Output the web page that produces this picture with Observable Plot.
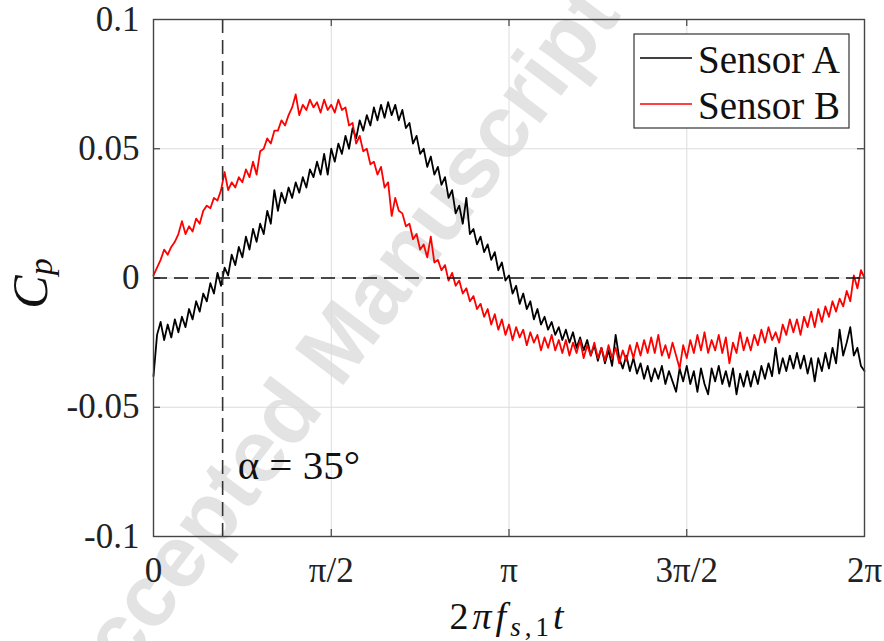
<!DOCTYPE html>
<html>
<head>
<meta charset="utf-8">
<script src="https://cdn.jsdelivr.net/npm/d3@7"></script>
<script src="https://cdn.jsdelivr.net/npm/@observablehq/plot@0.6"></script>
<style>
  body { margin: 0; background: #fff; }
  #chart svg { display: block; }
</style>
</head>
<body>
<div id="chart"></div>
<script>
// ---------------- data ----------------
const seriesNames = ["Sensor A", "Sensor B"];
const seriesColors = ["#000000", "#ff0000"];

const xTicks = [0, Math.PI / 2, Math.PI, 3 * Math.PI / 2, 2 * Math.PI];
const xTickLabels = ["0", "π/2", "π", "3π/2", "2π"];
const yTicks = [-0.1, -0.05, 0, 0.05, 0.1];
const yTickLabels = ["-0.1", "-0.05", "0", "0.05", "0.1"];

const alphaDeg = 35;
const alphaLabel = "α = 35°";
const watermarkText = "Accepted Manuscript";

// Sensor A (black), sampled uniformly over one period 0..2π
const cpA = [
-0.038,-0.022,-0.017,-0.024,-0.018,-0.023,-0.016,-0.021,-0.015,-0.019,
-0.012,-0.016,-0.009,-0.013,-0.006,-0.009,-0.002,-0.006,0.002,-0.003,
0.004,0.001,0.009,0.005,0.012,0.008,0.016,0.011,0.019,0.014,
0.021,0.017,0.026,0.021,0.034,0.026,0.033,0.029,0.035,0.031,
0.037,0.033,0.039,0.035,0.042,0.039,0.045,0.040,0.048,0.040,
0.050,0.045,0.052,0.048,0.055,0.050,0.058,0.054,0.061,0.057,
0.063,0.059,0.066,0.061,0.067,0.062,0.068,0.063,0.067,0.061,
0.065,0.058,0.060,0.052,0.055,0.048,0.050,0.043,0.047,0.040,
0.043,0.036,0.039,0.031,0.034,0.025,0.028,0.021,0.031,0.017,
0.019,0.013,0.016,0.010,0.013,0.007,0.010,0.003,0.006,-0.001,
0.001,-0.006,-0.003,-0.010,-0.006,-0.012,-0.009,-0.016,-0.012,-0.018,
-0.015,-0.020,-0.017,-0.022,-0.019,-0.024,-0.020,-0.025,-0.021,-0.027,
-0.023,-0.028,-0.024,-0.030,-0.026,-0.032,-0.027,-0.033,-0.028,-0.034,
-0.022,-0.031,-0.035,-0.030,-0.036,-0.031,-0.037,-0.033,-0.039,-0.034,
-0.040,-0.035,-0.039,-0.034,-0.041,-0.036,-0.040,-0.044,-0.035,-0.040,
-0.034,-0.041,-0.036,-0.044,-0.035,-0.041,-0.045,-0.035,-0.040,-0.034,
-0.041,-0.036,-0.042,-0.035,-0.045,-0.037,-0.042,-0.036,-0.042,-0.036,
-0.041,-0.034,-0.039,-0.033,-0.038,-0.027,-0.037,-0.031,-0.036,-0.030,
-0.035,-0.029,-0.035,-0.030,-0.037,-0.031,-0.040,-0.031,-0.036,-0.029,
-0.035,-0.027,-0.033,-0.020,-0.030,-0.025,-0.019,-0.030,-0.027,-0.034,
-0.036
];

// Sensor B (red)
const cpB = [
0.001,0.004,0.007,0.011,0.009,0.012,0.014,0.017,0.022,0.017,
0.020,0.018,0.023,0.021,0.026,0.028,0.027,0.031,0.030,0.034,
0.041,0.034,0.037,0.035,0.039,0.037,0.042,0.039,0.045,0.040,
0.049,0.050,0.054,0.052,0.057,0.057,0.061,0.059,0.063,0.066,
0.071,0.063,0.067,0.065,0.069,0.066,0.068,0.064,0.069,0.065,
0.067,0.064,0.069,0.065,0.066,0.059,0.060,0.052,0.055,0.049,
0.050,0.044,0.045,0.040,0.043,0.035,0.037,0.024,0.031,0.026,
0.025,0.020,0.021,0.015,0.017,0.011,0.013,0.008,0.016,0.006,
0.007,0.003,0.005,-0.001,0.002,-0.003,-0.001,-0.006,-0.004,-0.009,
-0.007,-0.012,-0.010,-0.015,-0.012,-0.018,-0.014,-0.020,-0.016,-0.022,
-0.018,-0.024,-0.019,-0.023,-0.020,-0.026,-0.021,-0.025,-0.022,-0.028,
-0.023,-0.027,-0.022,-0.028,-0.024,-0.029,-0.024,-0.030,-0.025,-0.029,
-0.024,-0.031,-0.026,-0.030,-0.025,-0.031,-0.027,-0.032,-0.026,-0.031,
-0.027,-0.033,-0.028,-0.032,-0.026,-0.031,-0.025,-0.030,-0.024,-0.029,
-0.023,-0.029,-0.022,-0.030,-0.026,-0.031,-0.025,-0.030,-0.035,-0.026,
-0.031,-0.024,-0.029,-0.022,-0.028,-0.021,-0.029,-0.024,-0.028,-0.022,
-0.029,-0.023,-0.033,-0.025,-0.029,-0.021,-0.028,-0.023,-0.028,-0.022,
-0.026,-0.020,-0.025,-0.019,-0.024,-0.021,-0.025,-0.018,-0.022,-0.016,
-0.021,-0.016,-0.022,-0.015,-0.019,-0.013,-0.019,-0.012,-0.017,-0.011,
-0.015,-0.009,-0.013,-0.008,-0.011,-0.005,-0.009,0.001,-0.004,0.003,
0.000
];

// ---------------- build ----------------
const period = 2 * Math.PI;
const toRows = (arr, name) => arr.map((v, i) => ({t: i * period / (arr.length - 1), cp: v, s: name}));
const rowsA = toRows(cpA, seriesNames[0]);
const rowsB = toRows(cpB, seriesNames[1]);
const alphaRad = alphaDeg * Math.PI / 180;

const serif = "Liberation Serif";
const fmtX = d => xTickLabels[xTicks.findIndex(t => Math.abs(t - d) < 1e-9)];
const fmtY = d => yTickLabels[yTicks.findIndex(t => Math.abs(t - d) < 1e-9)];
const inner = xTicks.slice(1, -1);
const innerY = yTicks.slice(1, -1);

const W = 884, H = 641;
const mL = 153, mR = 20, mT = 19, mB = 105;
const plotW = W - mL - mR, plotH = H - mT - mB;
const tickLen = 7;

const chart = Plot.plot({
  width: W,
  height: H,
  marginLeft: mL,
  marginRight: mR,
  marginTop: mT,
  marginBottom: mB,
  x: {domain: [0, period]},
  y: {domain: [yTicks[0], yTicks[yTicks.length - 1]]},
  style: {background: "#fff", color: "#222", fontFamily: serif},
  marks: [
    Plot.gridX(inner, {stroke: "#dcdcdc", strokeOpacity: 1, strokeWidth: 1}),
    Plot.gridY(innerY, {stroke: "#dcdcdc", strokeOpacity: 1, strokeWidth: 1}),
    Plot.tickX(inner, {x: d => d, insetTop: plotH - tickLen, stroke: "#444", strokeWidth: 1.2}),
    Plot.tickX(inner, {x: d => d, insetBottom: plotH - tickLen, stroke: "#444", strokeWidth: 1.2}),
    Plot.tickY(innerY, {y: d => d, insetRight: plotW - tickLen, stroke: "#444", strokeWidth: 1.2}),
    Plot.tickY(innerY, {y: d => d, insetLeft: plotW - tickLen, stroke: "#444", strokeWidth: 1.2}),
    Plot.line(rowsA, {x: "t", y: "cp", stroke: seriesColors[0], strokeWidth: 1.8}),
    Plot.line(rowsB, {x: "t", y: "cp", stroke: seriesColors[1], strokeWidth: 1.8}),
    Plot.ruleY([0], {stroke: "#111", strokeWidth: 1.6, strokeDasharray: "14,7"}),
    Plot.ruleX([alphaRad], {stroke: "#333", strokeWidth: 1.6, strokeDasharray: "14,7"}),
    Plot.frame({stroke: "#444", strokeWidth: 1.4}),
    Plot.axisY(yTicks, {tickFormat: fmtY, tickSize: 0, tickPadding: 14, fontSize: 35, fontFamily: serif, label: null, fill: "#222"}),
    Plot.axisX(xTicks, {tickFormat: fmtX, tickSize: 0, tickPadding: 21, fontSize: 35, fontFamily: serif, label: null, fill: "#222"}),
    Plot.text([alphaLabel], {x: () => alphaRad, text: d => d, frameAnchor: "bottom", lineAnchor: "bottom",
      textAnchor: "start", dx: 15, dy: -58, fontSize: 41, fontFamily: serif, fill: "#111"})
  ]
});

document.getElementById("chart").appendChild(chart);
const svg = d3.select(chart);

// y-axis title  C_p
const yt = svg.append("text")
  .attr("transform", `translate(47,${mT + plotH / 2 + 6}) rotate(-90)`)
  .attr("text-anchor", "middle")
  .attr("fill", "#111");
yt.append("tspan").attr("font-style", "italic").attr("font-size", 50).text("C");
yt.append("tspan").attr("font-style", "italic").attr("font-size", 34).attr("dy", 5).text("p");

// x-axis title  2πf_{s,1}t
const xt = svg.append("text")
  .attr("x", 508.5).attr("y", 629)
  .attr("text-anchor", "middle")
  .attr("font-size", 38)
  .attr("letter-spacing", 4)
  .attr("fill", "#111");
xt.append("tspan").text("2");
xt.append("tspan").attr("font-style", "italic").text("πf");
xt.append("tspan").attr("font-style", "italic").attr("font-size", 27).attr("dy", 7).text("s");
xt.append("tspan").attr("font-size", 27).text(",1");
xt.append("tspan").attr("font-style", "italic").attr("dy", -7).text("t");

// legend
const lg = svg.append("g");
lg.append("rect").attr("x", 634).attr("y", 34).attr("width", 215).attr("height", 94)
  .attr("fill", "#fff").attr("stroke", "#333").attr("stroke-width", 1.2);
seriesNames.forEach((name, i) => {
  const cy = 58 + i * 46;
  lg.append("line").attr("x1", 640).attr("x2", 692).attr("y1", cy).attr("y2", cy)
    .attr("stroke", seriesColors[i]).attr("stroke-width", 1.5);
  lg.append("text").attr("x", 698).attr("y", cy + 15).attr("text-anchor", "start")
    .attr("font-size", 39).attr("fill", "#111").text(name);
});

// force the serif face on every text of the chart
svg.selectAll("text").style("font-family", "'Liberation Serif', 'Times New Roman', serif");

// watermark (behind everything)
svg.insert("text", ":first-child")
  .attr("transform", "translate(330,352) rotate(-53)")
  .attr("text-anchor", "middle")
  .attr("dominant-baseline", "central")
  .style("font-family", "'Liberation Sans', Arial, sans-serif")
  .style("font-weight", "bold")
  .attr("font-size", 88)
  .attr("fill", "#e3e3e3")
  .text(watermarkText);
</script>
</body>
</html>
